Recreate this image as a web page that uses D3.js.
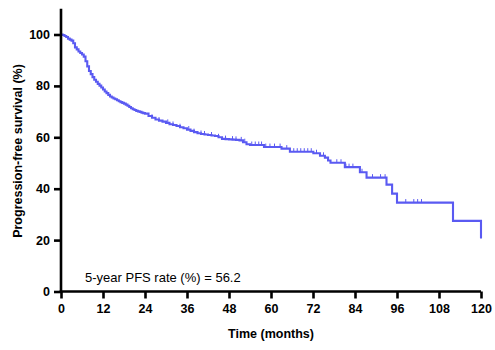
<!DOCTYPE html>
<html>
<head>
<meta charset="utf-8">
<script src="https://cdn.jsdelivr.net/npm/d3@7/dist/d3.min.js"></script>
<style>
  html, body { margin: 0; padding: 0; background: #fff; }
  svg { display: block; font-family: "Liberation Sans", Arial, sans-serif; }
</style>
</head>
<body>
<svg id="chart" width="495" height="350"></svg>
<script>
// Kaplan-Meier progression-free survival: step times (months) and survival (%)
const stepTimes = [0, 0.5, 1, 1.5, 2, 2.5, 3, 3.5, 4, 4.5, 5, 5.5, 6, 6.5, 7, 7.5, 8, 8.5, 9, 9.5,
  10, 10.5, 11, 11.5, 12, 12.5, 13, 13.5, 14, 14.5, 15, 15.5, 16, 16.5, 17, 17.5, 18, 18.5, 19, 19.5,
  20, 20.5, 21, 21.5, 22, 22.5, 23, 23.5, 24, 25, 26, 27, 28, 29, 30, 31, 32, 33, 34, 35, 36, 37, 38, 39,
  40, 41, 42, 43, 44, 45, 46, 47, 48, 49, 50, 51, 52, 53, 54, 58,
  63, 65.4, 72.1, 74, 75.4, 76.3, 77, 81.1, 85.4, 87.3, 93, 94.6, 96, 112, 120];
const survival = [100, 99.8, 99.4, 99, 98.4, 98, 97.6, 96.6, 95, 94.2, 93.4, 92.8, 92.2, 91.4, 89.6, 87.6, 85.8, 84.6, 83.4, 82.4,
  81.6, 80.8, 80.1, 79.4, 78.6, 77.8, 77.2, 76.5, 75.9, 75.5, 75.1, 74.8, 74.4, 74, 73.7, 73.4, 73.1, 72.7, 72.3, 71.8,
  71.3, 70.9, 70.6, 70.3, 70.1, 69.9, 69.6, 69.4, 69.2, 68.3, 67.6, 66.9, 66.5, 66.1, 65.6, 65.1, 64.8, 64.4, 63.9, 63.5, 63, 62.5, 62, 61.6,
  61.3, 61.1, 60.9, 60.7, 60.5, 60, 59.4, 59.3, 59.2, 59.1, 59, 58.8, 58.1, 57.3, 57, 56.2,
  55.6, 54.4, 53.8, 52.8, 52.1, 51, 50.1, 48.4, 46.4, 44.3, 41.6, 38.1, 34.6, 27.5, 20.6];

// Censored observations (months)
const censorTimes = [26, 28, 30.5, 32, 34, 36.5, 38, 40, 41, 43, 45, 47, 49, 50, 51.5, 52.5,
  54.5, 55.5, 56.5, 57.3, 58.5, 59.7, 61, 62.6, 64.5, 66.5, 67.5, 68.5, 69.5, 70.5, 71.5,
  73, 75, 78.8, 80, 81.4, 82.3, 83.4, 86, 89, 91.3, 92.6, 98.5, 100.8, 101.9, 103];

const xTicks = [0, 12, 24, 36, 48, 60, 72, 84, 96, 108, 120];
const yTicks = [0, 20, 40, 60, 80, 100];
const annotation = "5-year PFS rate (%) = 56.2";

const svg = d3.select("#chart");
const x = d3.scaleLinear().domain([0, 120]).range([61, 481]);
const y = d3.scaleLinear().domain([0, 110]).range([291.5, 8.8]);

const curve = stepTimes.map((t, i) => [t, survival[i]]);

// survival value at a given time (step function, right-continuous)
function survAt(t) {
  let v = survival[0];
  for (let i = 0; i < stepTimes.length; i++) {
    if (stepTimes[i] <= t) v = survival[i]; else break;
  }
  return v;
}

const blue = "#5a5af2";

// KM curve
svg.append("path")
  .datum(curve)
  .attr("fill", "none")
  .attr("stroke", blue)
  .attr("stroke-width", 2.1)
  .attr("d", d3.line().x(d => x(d[0])).y(d => y(d[1])).curve(d3.curveStepAfter));

// censor marks
svg.append("g").selectAll("line")
  .data(censorTimes)
  .join("line")
  .attr("x1", d => x(d)).attr("x2", d => x(d))
  .attr("y1", d => y(survAt(d)))
  .attr("y2", d => y(survAt(d)) - 3.5)
  .attr("stroke", blue)
  .attr("stroke-width", 1);

// axes
const xAxis = svg.append("g")
  .attr("transform", `translate(0,${y(0)})`)
  .call(d3.axisBottom(x).tickValues(xTicks).tickSize(7).tickPadding(6).tickSizeOuter(0));
const yAxis = svg.append("g")
  .attr("transform", `translate(${x(0)},0)`)
  .call(d3.axisLeft(y).tickValues(yTicks).tickSize(7).tickPadding(4).tickSizeOuter(0));

[xAxis, yAxis].forEach(g => {
  g.select(".domain").attr("stroke", "#000").attr("stroke-width", 2.6);
  g.selectAll(".tick line").attr("stroke", "#000").attr("stroke-width", 2.6);
  g.selectAll(".tick text")
    .attr("fill", "#000")
    .style("font-family", "'Liberation Sans', Arial, sans-serif")
    .style("font-size", "12.5px")
    .style("font-weight", "bold");
});
// extend the axis lines so they meet at the origin
xAxis.select(".domain").attr("d", `M${x(0) - 1.3},0H${x(120)}`);
yAxis.select(".domain").attr("d", `M0,${y(0) + 1.3}V${y(110)}`);

// axis titles
svg.append("text")
  .attr("x", 271).attr("y", 338)
  .attr("text-anchor", "middle")
  .style("font-size", "12.5px").style("font-weight", "bold")
  .text("Time (months)");

svg.append("text")
  .attr("transform", "translate(21.5,151) rotate(-90)")
  .attr("text-anchor", "middle")
  .style("font-size", "12.5px").style("font-weight", "bold")
  .text("Progression-free survival (%)");

// annotation
svg.append("text")
  .attr("x", 85).attr("y", 282)
  .style("font-size", "13px")
  .text(annotation);
</script>
</body>
</html>
